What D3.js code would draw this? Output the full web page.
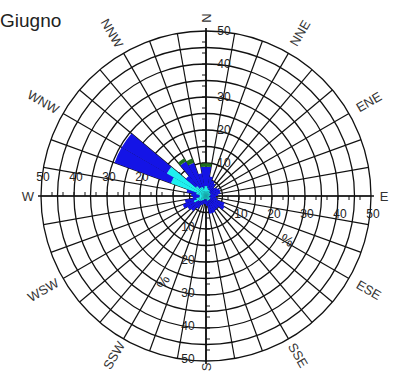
<!DOCTYPE html>
<html>
<head>
<meta charset="utf-8">
<script src="https://cdn.jsdelivr.net/npm/d3@7"></script>
<style>
  body { margin: 0; background: #fff; }
  svg { display: block; font-family: "Liberation Sans", Arial, sans-serif; }
</style>
</head>
<body>
<div id="chart"></div>
<script>
// sector start bearings (deg), 10 deg wide
const sectors = [0, 10, 20, 30, 40, 50, 60, 70, 80, 90, 100, 110, 120, 130, 140, 150, 160, 170,
  180, 190, 200, 210, 220, 230, 240, 250, 260, 270, 280, 290, 300, 310, 320, 330, 340, 350];

// frequency (%) per speed class, stacked from centre outwards
const cyanClass = [3.0, 2.5, 2.0, 2.0, 1.5, 1.5, 1.5, 1.5, 1.2, 1.0, 1.0, 1.5, 1.5, 1.5, 1.5, 1.5, 1.5, 1.0,
  1.0, 1.0, 1.0, 1.5, 2.0, 2.5, 4.0, 3.0, 2.0, 2.0, 3.0, 11.3, 13.7, 4.0, 3.0, 3.0, 2.5, 3.0];
const blueClass = [5.9, 3.5, 3.0, 2.5, 2.0, 2.5, 3.0, 3.0, 2.5, 2.0, 2.5, 4.5, 5.0, 3.5, 3.5, 4.0, 4.0, 2.0,
  1.5, 1.5, 2.0, 3.0, 4.0, 4.0, 3.5, 3.5, 2.0, 2.5, 3.0, 18.2, 15.8, 4.0, 9.1, 7.7, 4.5, 5.9];
const greenClass = [1.0, 0, 0, 0, 0, 0, 0, 0, 0, 0, 0, 0, 0, 0, 0, 0, 0, 0,
  0, 0, 0, 0, 0, 0, 0, 0, 0, 0, 0, 0, 0, 0, 1.1, 1.4, 0, 1.0];

const classColors = ['#1ff0f0', '#1414e6', '#1f6e1f'];

const rings = [5, 10, 15, 20, 25, 30, 35, 40, 45, 50];
const ringLabels = [10, 20, 30, 40, 50];
const compass = ['N', 'NNE', 'ENE', 'E', 'ESE', 'SSE', 'S', 'SSW', 'WSW', 'W', 'WNW', 'NNW'];
const title = 'Giugno';

const width = 395, height = 374;
const cx = 206, cy = 196;

let svg = d3.select('#chart').append('svg').attr('width', width).attr('height', height);

let r = d3.scaleLinear().domain([0, 50]).range([0, 165]);
let rad = d => d * Math.PI / 180;

let g = svg.append('g').attr('transform', 'translate(' + cx + ',' + cy + ')');

// grid: rings and spokes every 10 deg
g.append('g').selectAll('circle')
  .data(rings)
  .enter()
  .append('circle')
  .attr('r', d => r(d))
  .attr('fill', 'none')
  .attr('stroke', '#111')
  .attr('stroke-width', 1.3);

g.append('g').selectAll('line')
  .data(sectors)
  .enter()
  .append('line')
  .attr('x1', 0)
  .attr('y1', 0)
  .attr('x2', d => r(50) * Math.sin(rad(d)))
  .attr('y2', d => -r(50) * Math.cos(rad(d)))
  .attr('stroke', '#111')
  .attr('stroke-width', 1.2);

// main axes with minor ticks
let axisEnd = 168;
g.append('line').attr('x1', -axisEnd).attr('x2', axisEnd).attr('y1', 0).attr('y2', 0)
  .attr('stroke', '#111').attr('stroke-width', 1.7);
g.append('line').attr('y1', -axisEnd).attr('y2', axisEnd).attr('x1', 0).attr('x2', 0)
  .attr('stroke', '#111').attr('stroke-width', 1.7);

let tickVals = d3.range(1, 15).map(i => i * 10 / 3);
let ticks = g.append('g').attr('stroke', '#111').attr('stroke-width', 1);
tickVals.forEach(v => {
  let p = r(v);
  ticks.append('line').attr('x1', p).attr('x2', p).attr('y1', 0).attr('y2', 4);
  ticks.append('line').attr('x1', -p).attr('x2', -p).attr('y1', 0).attr('y2', -4);
  ticks.append('line').attr('y1', -p).attr('y2', -p).attr('x1', 0).attr('x2', -4);
  ticks.append('line').attr('y1', p).attr('y2', p).attr('x1', 0).attr('x2', 4);
});

// ring labels on the four axes
let lab = g.append('g')
  .attr('font-size', 12)
  .attr('fill', '#222')
  .attr('text-anchor', 'middle')
  .attr('dominant-baseline', 'central');

ringLabels.forEach(v => {
  lab.append('text').attr('x', 18).attr('y', -r(v)).text(v);
  lab.append('text').attr('x', r(v) + 2).attr('y', 18).text(v);
  lab.append('text').attr('x', -18).attr('y', r(v) - 2).text(v);
  lab.append('text').attr('x', -r(v) + 2).attr('y', -19).text(v);
});

lab.append('text')
  .attr('font-size', 14)
  .attr('transform', 'translate(81,44) rotate(28)')
  .text('%');
lab.append('text')
  .attr('font-size', 14)
  .attr('transform', 'translate(-43,86) rotate(-62)')
  .text('%');

// petals
let stacked = sectors.map((s, i) => {
  let vals = [cyanClass[i], blueClass[i], greenClass[i]];
  let acc = 0;
  return vals.map((v, k) => {
    let seg = { start: s, inner: acc, outer: acc + v, cls: k };
    acc += v;
    return seg;
  }).filter(d => d.outer > d.inner);
}).flat();

let arc = d3.arc()
  .innerRadius(d => r(d.inner))
  .outerRadius(d => r(d.outer))
  .startAngle(d => rad(d.start))
  .endAngle(d => rad(d.start + 10));

g.append('g').selectAll('path')
  .data(stacked)
  .enter()
  .append('path')
  .attr('d', arc)
  .attr('fill', d => classColors[d.cls]);

// compass labels every 30 deg
let comp = g.append('g')
  .attr('font-size', 13)
  .attr('fill', '#333')
  .attr('text-anchor', 'middle')
  .attr('dominant-baseline', 'central');

compass.forEach((name, i) => {
  let a = i * 30;
  let rr = (a % 90 === 0) ? 178 : 188;
  if (a === 180) rr = 171;
  if (a === 150 || a === 210) rr = 184;
  let x = rr * Math.sin(rad(a));
  let y = -rr * Math.cos(rad(a));
  let rot;
  if (a === 90 || a === 270) rot = 0;
  else if (a < 180) rot = a - 90;
  else rot = a - 270;
  comp.append('text')
    .attr('transform', 'translate(' + x + ',' + y + ') rotate(' + rot + ')')
    .text(name);
});

svg.append('text')
  .attr('x', 0)
  .attr('y', 27)
  .attr('font-size', 19)
  .attr('fill', '#222')
  .text(title);
</script>
</body>
</html>
